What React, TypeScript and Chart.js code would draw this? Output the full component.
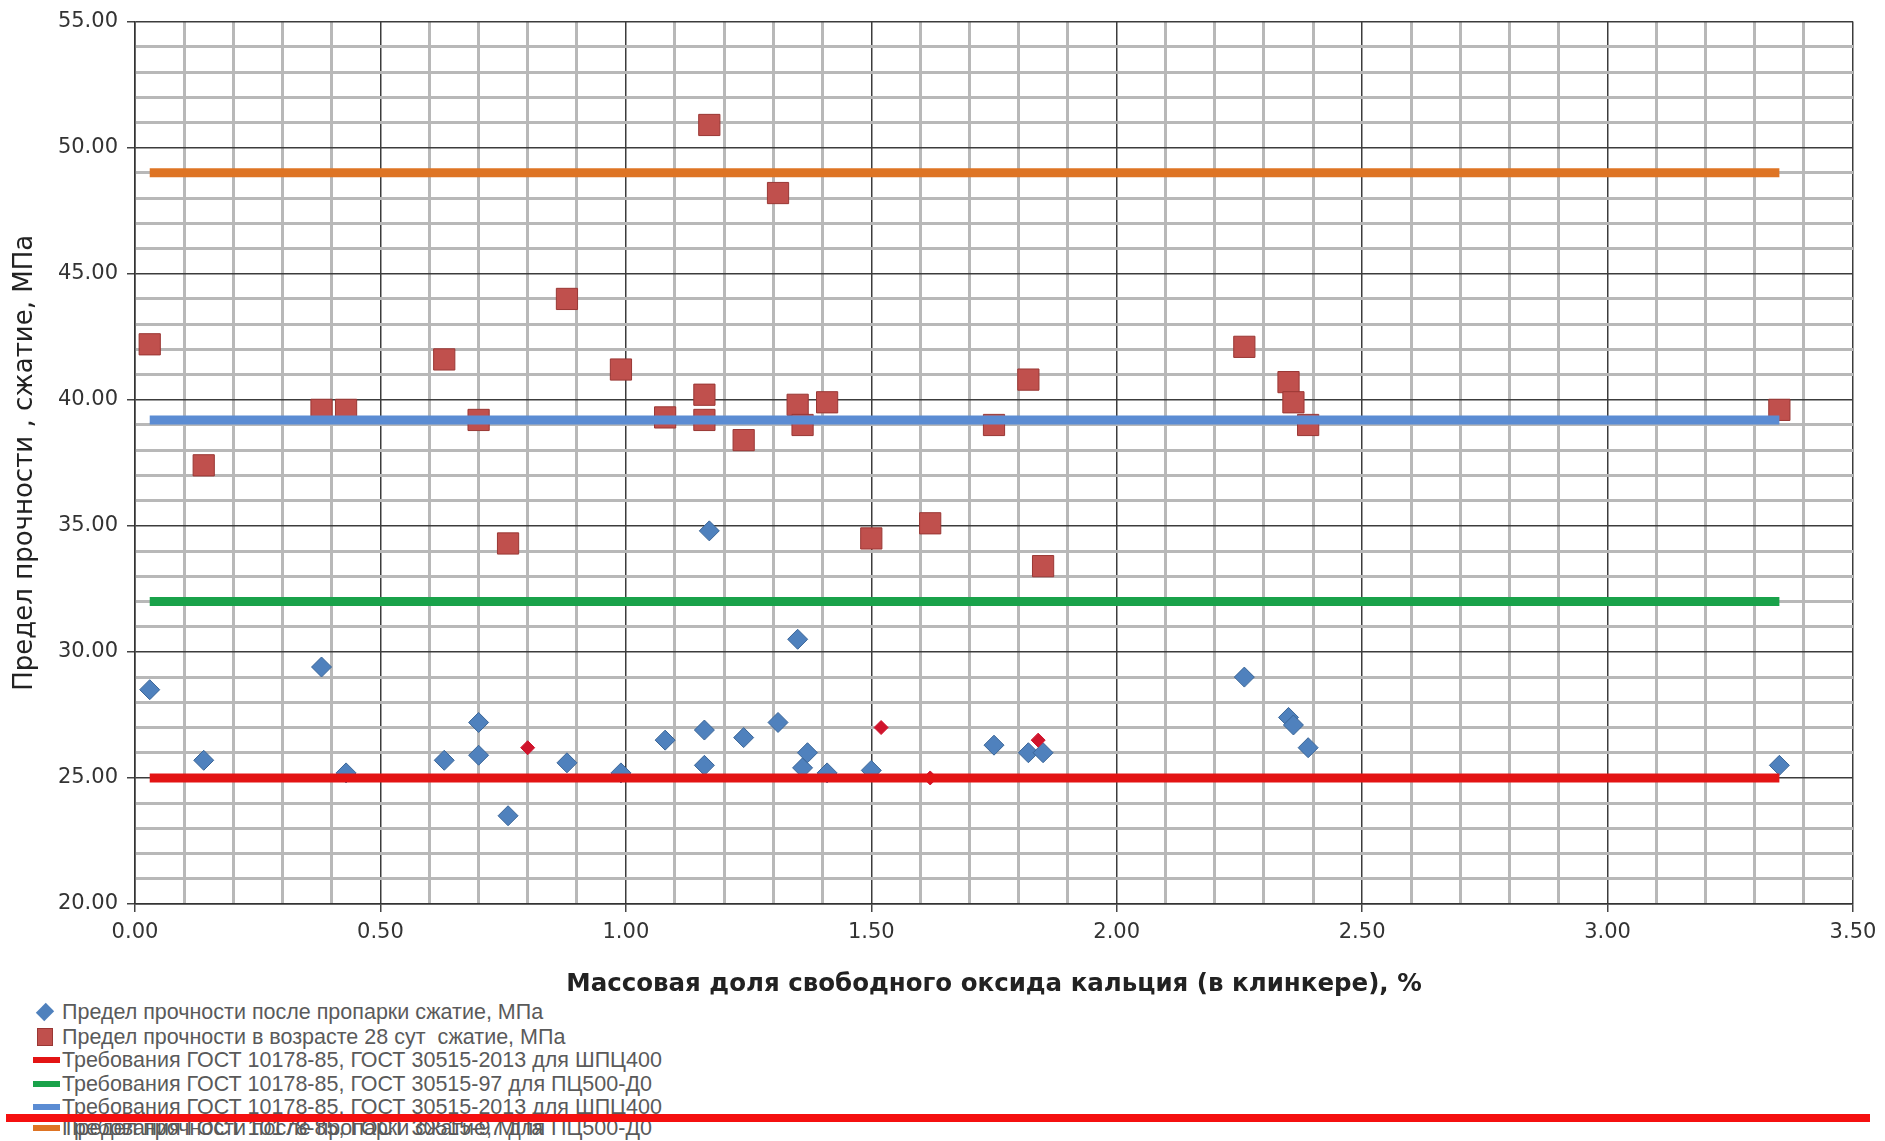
import React, { useEffect, useRef } from 'react';
import { Chart, registerables } from 'chart.js';

Chart.register(...registerables);

// ---- data ----
const steamX = [0.03, 0.14, 0.38, 0.43, 0.63, 0.70, 0.70, 0.76, 0.88, 0.99, 1.08, 1.16, 1.16, 1.17, 1.24, 1.31, 1.35, 1.36, 1.37, 1.41, 1.50, 1.75, 1.82, 1.85, 2.26, 2.35, 2.36, 2.39, 3.35];
const steamY = [28.5, 25.7, 29.4, 25.2, 25.7, 27.2, 25.9, 23.5, 25.6, 25.2, 26.5, 26.9, 25.5, 34.8, 26.6, 27.2, 30.5, 25.4, 26.0, 25.2, 25.3, 26.3, 26.0, 26.0, 29.0, 27.4, 27.1, 26.2, 25.5];

const age28X = [0.03, 0.14, 0.38, 0.43, 0.63, 0.70, 0.76, 0.88, 0.99, 1.08, 1.16, 1.16, 1.17, 1.24, 1.31, 1.35, 1.36, 1.41, 1.50, 1.62, 1.75, 1.82, 1.85, 2.26, 2.35, 2.36, 2.39, 3.35];
const age28Y = [42.2, 37.4, 39.6, 39.6, 41.6, 39.2, 34.3, 44.0, 41.2, 39.3, 40.2, 39.2, 50.9, 38.4, 48.2, 39.8, 39.0, 39.9, 34.5, 35.1, 39.0, 40.8, 33.4, 42.1, 40.7, 39.9, 39.0, 39.6];

const extraX = [0.80, 1.52, 1.62, 1.84];
const extraY = [26.2, 27.0, 25.0, 26.5];

const reqX = [0.03, 3.35];
const reqShpc400Low = [25, 25];
const reqPc500 = [32, 32];
const reqShpc400High = [39.2, 39.2];
const reqPc500High = [49, 49];

const legendLabels = [
  'Предел прочности после пропарки сжатие, МПа',
  'Предел прочности в возрасте 28 сут  сжатие, МПа',
  'Требования ГОСТ 10178-85, ГОСТ 30515-2013 для ШПЦ400',
  'Требования ГОСТ 10178-85, ГОСТ 30515-97 для ПЦ500-Д0',
  'Требования ГОСТ 10178-85, ГОСТ 30515-2013 для ШПЦ400',
  'Требования ГОСТ 10178-85, ГОСТ 30515-97 для ПЦ500-Д0',
];
const xTitle = 'Массовая доля свободного оксида кальция (в клинкере), %';
const yTitle = 'Предел прочности , сжатие, МПа';

// ---- styles ----
const C_STEAM = '#4F81BD';
const C_AGE = '#C0504D';
const C_EXTRA = '#D0142C';
const C_RED = '#E31414';
const C_GREEN = '#19A24A';
const C_BLUE = '#5B8CD3';
const C_ORANGE = '#DE7424';

const isMult = (v: number, step: number) => Math.abs(v / step - Math.round(v / step)) < 1e-6;
const pts = (xs: number[], ys: number[]) => xs.map((x, i) => ({ x, y: ys[i] }));

const MAJOR = '#3c3c3c';
const MINOR = '#b8b8b8';

export default function App() {
  const ref = useRef<HTMLCanvasElement>(null);

  useEffect(() => {
    if (!ref.current) return;
    const lineDs = (label: string, ys: number[], color: string) => ({
      type: 'line' as const,
      label,
      data: pts(reqX, ys),
      showLine: true,
      borderColor: color,
      backgroundColor: color,
      borderWidth: 9,
      pointRadius: 0,
      pointHoverRadius: 0,
      order: 0,
    });
    const chart = new Chart(ref.current, {
      type: 'scatter',
      data: {
        datasets: [
          lineDs(legendLabels[2], reqShpc400Low, C_RED),
          lineDs(legendLabels[3], reqPc500, C_GREEN),
          lineDs(legendLabels[4], reqShpc400High, C_BLUE),
          lineDs(legendLabels[5], reqPc500High, C_ORANGE),
          {
            label: legendLabels[0],
            data: pts(steamX, steamY),
            pointStyle: 'rectRot',
            pointRadius: 10,
            backgroundColor: C_STEAM,
            borderColor: '#3A6597',
            borderWidth: 1,
            order: 2,
          },
          {
            label: legendLabels[1],
            data: pts(age28X, age28Y),
            pointStyle: 'rect',
            pointRadius: 15,
            backgroundColor: C_AGE,
            borderColor: '#9A3734',
            borderWidth: 1,
            order: 3,
          },
          {
            label: '',
            data: pts(extraX, extraY),
            pointStyle: 'rectRot',
            pointRadius: 7,
            backgroundColor: C_EXTRA,
            borderColor: C_EXTRA,
            borderWidth: 1,
            order: 1,
          },
        ],
      } as any,
      options: {
        responsive: false,
        animation: false,
        devicePixelRatio: 1,
        layout: { padding: { top: 20, right: 32, left: 0, bottom: 0 } },
        plugins: { legend: { display: false }, tooltip: { enabled: false } },
        scales: {
          x: {
            type: 'linear',
            min: 0,
            max: 3.5,
            afterFit: (s: any) => { s.height = 96; },
            ticks: {
              stepSize: 0.1,
              autoSkip: false,
              maxRotation: 0,
              minRotation: 0,
              padding: 8,
              color: '#333',
              font: { family: 'DejaVu Sans', size: 21 },
              callback: (v: any) => (isMult(Number(v), 0.5) ? Number(v).toFixed(2) : ''),
            },
            grid: {
              color: (c: any) => (c.tick && isMult(c.tick.value, 0.5) ? MAJOR : MINOR),
              lineWidth: (c: any) => (c.tick && isMult(c.tick.value, 0.5) ? 1.5 : 3),
              tickLength: 8,
              tickColor: (c: any) => (c.tick && isMult(c.tick.value, 0.5) ? '#444' : 'rgba(0,0,0,0)'),
              tickWidth: 1.5,
            },
            border: { display: true, color: '#333', width: 1.5 },
            title: {
              display: true,
              text: xTitle,
              color: '#222',
              font: { family: 'DejaVu Sans', size: 24.5, weight: 'bold' },
              padding: { top: 0, bottom: 1 },
            },
          },
          y: {
            type: 'linear',
            min: 20,
            max: 55,
            afterFit: (s: any) => { s.width = 135; },
            ticks: {
              stepSize: 1,
              autoSkip: false,
              padding: 9,
              color: '#333',
              font: { family: 'DejaVu Sans', size: 21 },
              callback: (v: any) => (isMult(Number(v), 5) ? Number(v).toFixed(2) : ''),
            },
            grid: {
              color: (c: any) => (c.tick && isMult(c.tick.value, 5) ? MAJOR : MINOR),
              lineWidth: (c: any) => (c.tick && isMult(c.tick.value, 5) ? 1.5 : 3),
              tickLength: 8,
              tickColor: (c: any) => (c.tick && isMult(c.tick.value, 5) ? '#444' : 'rgba(0,0,0,0)'),
              tickWidth: 1.5,
            },
            border: { display: true, color: '#333', width: 1.5 },
            title: {
              display: true,
              text: yTitle,
              color: '#222',
              font: { family: 'DejaVu Sans', size: 26 },
              padding: { top: 10, bottom: 0 },
            },
          },
        },
      } as any,
    });
    return () => chart.destroy();
  }, []);

  const rowCenters = [1012, 1037, 1060, 1084, 1107, 1128];
  const textStyle: React.CSSProperties = {
    position: 'absolute',
    left: 62,
    fontFamily: 'Liberation Sans',
    fontSize: 21.5,
    lineHeight: '24px',
    color: '#5a5a5a',
    whiteSpace: 'pre',
  };
  const marker = (i: number) => {
    const cy = rowCenters[i];
    if (i === 0) {
      return <div style={{ position: 'absolute', left: 45 - 7, top: cy - 7, width: 14, height: 14, background: C_STEAM, transform: 'rotate(45deg) scale(0.85,1)' }} />;
    }
    if (i === 1) {
      return <div style={{ position: 'absolute', left: 45 - 8, top: cy - 9, width: 16, height: 18, background: C_AGE, boxSizing: 'border-box', border: '1px solid #9A3734' }} />;
    }
    const colors = [C_RED, C_GREEN, C_BLUE, C_ORANGE];
    return <div style={{ position: 'absolute', left: 33, top: cy - 3, width: 27, height: 6, background: colors[i - 2] }} />;
  };

  return (
    <div style={{ position: 'absolute', left: 0, top: 0, width: 1885, height: 1141, background: '#fff', overflow: 'hidden' }}>
      <canvas ref={ref} width={1885} height={1000} style={{ position: 'absolute', left: 0, top: 0, width: 1885, height: 1000 }} />
      {legendLabels.map((lab, i) => (
        <React.Fragment key={i}>
          {marker(i)}
          <div style={{ ...textStyle, top: rowCenters[i] - 12 }}>{lab}</div>
        </React.Fragment>
      ))}
      <div style={{ ...textStyle, top: rowCenters[5] - 12 }}>{legendLabels[0]}</div>
      <div style={{ position: 'absolute', left: 6, top: 1114, width: 1864, height: 8, background: '#F51010' }} />
    </div>
  );
}
